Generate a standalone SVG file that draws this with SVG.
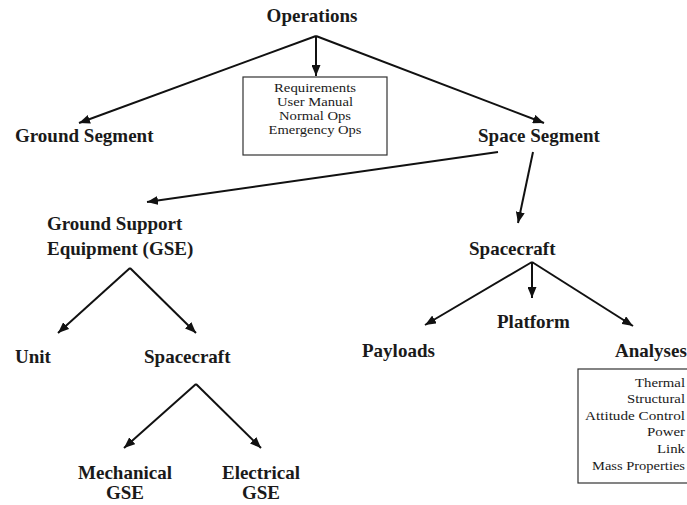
<svg xmlns="http://www.w3.org/2000/svg" width="687" height="505" viewBox="0 0 687 505">
<style>
.lbl{font-family:"Liberation Serif","Times New Roman",serif;font-weight:bold;font-size:19px;fill:#1a1a1a}
.sm{font-family:"Liberation Serif","Times New Roman",serif;font-size:12.5px;fill:#1a1a1a}
.sm2{font-family:"Liberation Serif","Times New Roman",serif;font-size:13.5px;fill:#1a1a1a}
.c{text-anchor:middle}
.r{text-anchor:end}
.box{fill:#fff;stroke:#333;stroke-width:1.2}
.conn line{stroke:#111;stroke-width:2;marker-end:url(#ah)}
</style>
<defs>
<marker id="ah" markerUnits="userSpaceOnUse" markerWidth="11" markerHeight="9" refX="11" refY="4.5" orient="auto">
<path d="M0,0 L11,4.5 L0,9 z" fill="#111"/>
</marker>
</defs>
<rect width="687" height="505" fill="#fff"/>
<g id="connectors" class="conn">
<line x1="316" y1="36" x2="79" y2="123"/>
<line x1="316" y1="36" x2="316" y2="76"/>
<line x1="316" y1="36" x2="544" y2="123"/>
<line x1="498" y1="152" x2="147" y2="202"/>
<line x1="533" y1="152" x2="518" y2="223"/>
<line x1="130" y1="268" x2="58" y2="333"/>
<line x1="130" y1="268" x2="196" y2="333"/>
<line x1="196" y1="384" x2="124" y2="448"/>
<line x1="196" y1="384" x2="261" y2="448"/>
<line x1="532" y1="262" x2="425" y2="325"/>
<line x1="532" y1="262" x2="532" y2="298"/>
<line x1="532" y1="262" x2="633" y2="326"/>
</g>
<g id="operations"><text class="lbl c" x="312" y="22">Operations</text></g>
<g id="ops-box">
<rect class="box" x="243" y="77" width="144" height="78"/>
<text class="sm c" x="315" y="92" textLength="82" lengthAdjust="spacingAndGlyphs">Requirements</text>
<text class="sm c" x="315" y="106" textLength="76" lengthAdjust="spacingAndGlyphs">User Manual</text>
<text class="sm c" x="315" y="120" textLength="72" lengthAdjust="spacingAndGlyphs">Normal Ops</text>
<text class="sm c" x="315" y="134" textLength="93" lengthAdjust="spacingAndGlyphs">Emergency Ops</text>
</g>
<g id="ground-segment"><text class="lbl" x="15" y="142">Ground Segment</text></g>
<g id="space-segment"><text class="lbl" x="478" y="142">Space Segment</text></g>
<g id="gse"><text class="lbl" x="47" y="230">Ground Support</text><text class="lbl" x="47" y="255">Equipment (GSE)</text></g>
<g id="unit"><text class="lbl" x="15" y="363">Unit</text></g>
<g id="gse-spacecraft"><text class="lbl" x="144" y="363">Spacecraft</text></g>
<g id="mechanical-gse"><text class="lbl c" x="125" y="479">Mechanical</text><text class="lbl c" x="125" y="499">GSE</text></g>
<g id="electrical-gse"><text class="lbl c" x="261" y="479">Electrical</text><text class="lbl c" x="261" y="499">GSE</text></g>
<g id="spacecraft"><text class="lbl" x="469" y="255">Spacecraft</text></g>
<g id="platform"><text class="lbl" x="497" y="328">Platform</text></g>
<g id="payloads"><text class="lbl" x="362" y="357">Payloads</text></g>
<g id="analyses"><text class="lbl" x="615" y="357">Analyses</text></g>
<g id="analyses-box">
<rect class="box" x="578" y="369" width="130" height="114"/>
<text class="sm2 r" x="685" y="387" textLength="50" lengthAdjust="spacingAndGlyphs">Thermal</text>
<text class="sm2 r" x="685" y="403" textLength="58" lengthAdjust="spacingAndGlyphs">Structural</text>
<text class="sm2 r" x="685" y="420" textLength="100" lengthAdjust="spacingAndGlyphs">Attitude Control</text>
<text class="sm2 r" x="685" y="436" textLength="38" lengthAdjust="spacingAndGlyphs">Power</text>
<text class="sm2 r" x="685" y="453" textLength="28" lengthAdjust="spacingAndGlyphs">Link</text>
<text class="sm2 r" x="685" y="470" textLength="93" lengthAdjust="spacingAndGlyphs">Mass Properties</text>
</g>
</svg>
